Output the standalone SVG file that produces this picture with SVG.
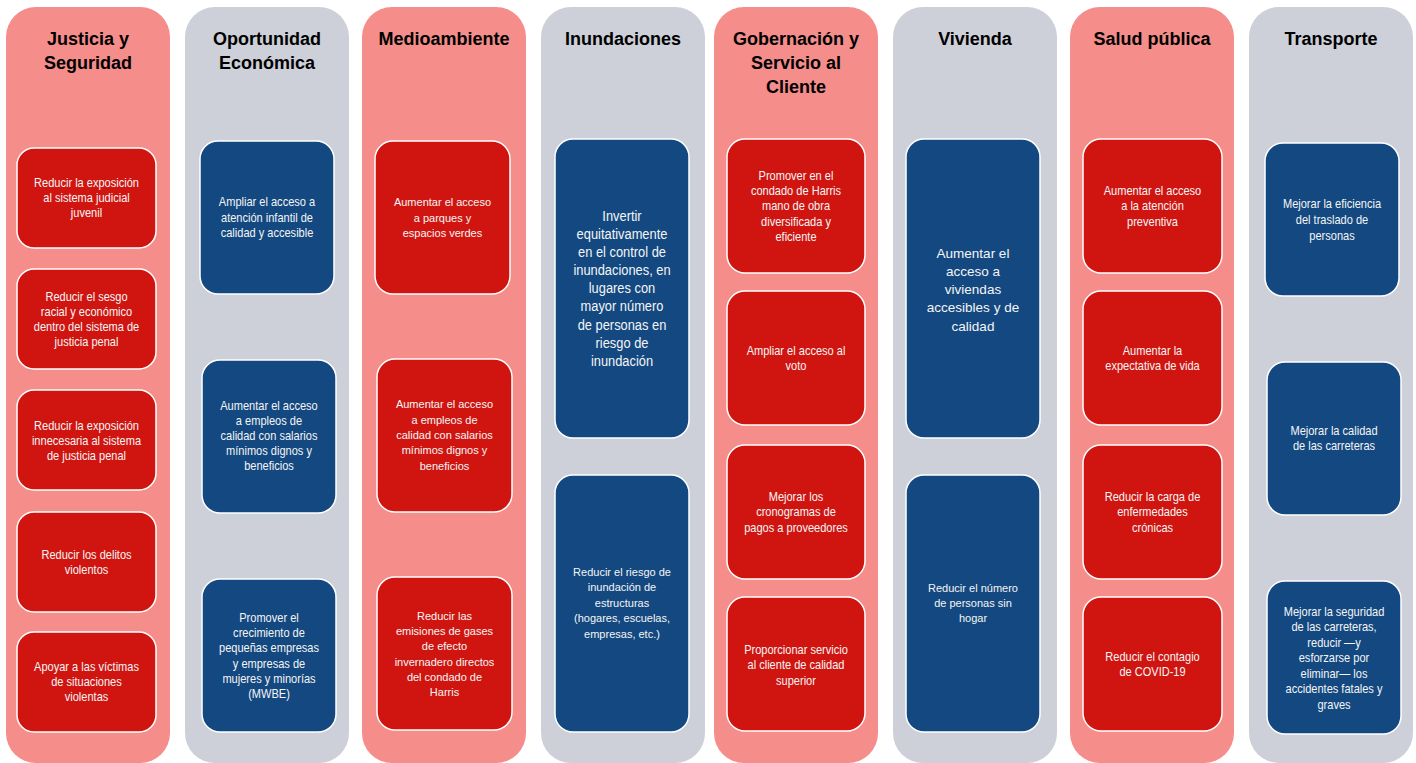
<svg xmlns="http://www.w3.org/2000/svg" width="1416" height="763" viewBox="0 0 1416 763">
<style>
.pink{fill:#F58D8B}
.gray{fill:#CDD0D9}
.red{fill:#D01511;stroke:#FFFFFF;stroke-width:1.5}
.blue{fill:#134880;stroke:#FFFFFF;stroke-width:1.5}
.hd{font-family:"Liberation Sans",Arial,sans-serif;font-weight:bold;font-size:18px;fill:#000;text-anchor:middle}
.n{font-family:"Liberation Sans",Arial,sans-serif;font-size:13px;fill:#F5F5F5;text-anchor:middle}
.r{font-family:"Liberation Sans",Arial,sans-serif;font-size:11px;fill:#F5F5F5;text-anchor:middle}
.nb{font-family:"Liberation Sans",Arial,sans-serif;font-size:15.5px;fill:#F5F5F5;text-anchor:middle}
.rb{font-family:"Liberation Sans",Arial,sans-serif;font-size:13.5px;fill:#F5F5F5;text-anchor:middle}
</style>

<g id="col-justicia">
<rect class="pink" x="6" y="7" width="164" height="756" rx="30"/>
<text class="hd"><tspan x="88" y="44.5">Justicia y</tspan><tspan x="88" y="68.5">Seguridad</tspan></text>
</g>
<g id="col-oportunidad">
<rect class="gray" x="185" y="7" width="164" height="756" rx="30"/>
<text class="hd"><tspan x="267" y="44.5">Oportunidad</tspan><tspan x="267" y="68.5">Económica</tspan></text>
</g>
<g id="col-medioambiente">
<rect class="pink" x="362" y="7" width="164" height="756" rx="30"/>
<text class="hd"><tspan x="444" y="44.5">Medioambiente</tspan></text>
</g>
<g id="col-inundaciones">
<rect class="gray" x="541" y="7" width="164" height="756" rx="30"/>
<text class="hd"><tspan x="623" y="44.5">Inundaciones</tspan></text>
</g>
<g id="col-gobernacion">
<rect class="pink" x="714" y="7" width="164" height="756" rx="30"/>
<text class="hd"><tspan x="796" y="44.5">Gobernación y</tspan><tspan x="796" y="68.5">Servicio al</tspan><tspan x="796" y="92.5">Cliente</tspan></text>
</g>
<g id="col-vivienda">
<rect class="gray" x="893" y="7" width="164" height="756" rx="30"/>
<text class="hd"><tspan x="975" y="44.5">Vivienda</tspan></text>
</g>
<g id="col-salud">
<rect class="pink" x="1070" y="7" width="164" height="756" rx="30"/>
<text class="hd"><tspan x="1152" y="44.5">Salud pública</tspan></text>
</g>
<g id="col-transporte">
<rect class="gray" x="1249" y="7" width="164" height="756" rx="30"/>
<text class="hd"><tspan x="1331" y="44.5">Transporte</tspan></text>
</g>

<!-- Justicia y Seguridad -->
<g id="j1"><rect class="red" x="17" y="148" width="139" height="100" rx="17"/>
<text class="n" transform="matrix(0.85 0 0 1 86.5 0)"><tspan x="0" y="187">Reducir la exposición</tspan><tspan x="0" y="202">al sistema judicial</tspan><tspan x="0" y="217">juvenil</tspan></text></g>
<g id="j2"><rect class="red" x="17" y="269" width="139" height="100" rx="17"/>
<text class="n" transform="matrix(0.85 0 0 1 86.5 0)"><tspan x="0" y="301">Reducir el sesgo</tspan><tspan x="0" y="316">racial y económico</tspan><tspan x="0" y="331">dentro del sistema de</tspan><tspan x="0" y="346">justicia penal</tspan></text></g>
<g id="j3"><rect class="red" x="17" y="390" width="139" height="100" rx="17"/>
<text class="n" transform="matrix(0.85 0 0 1 86.5 0)"><tspan x="0" y="430">Reducir la exposición</tspan><tspan x="0" y="445">innecesaria al sistema</tspan><tspan x="0" y="460">de justicia penal</tspan></text></g>
<g id="j4"><rect class="red" x="17" y="512" width="139" height="100" rx="17"/>
<text class="n" transform="matrix(0.85 0 0 1 86.5 0)"><tspan x="0" y="559">Reducir los delitos</tspan><tspan x="0" y="574">violentos</tspan></text></g>
<g id="j5"><rect class="red" x="17" y="632" width="139" height="100" rx="17"/>
<text class="n" transform="matrix(0.85 0 0 1 86.5 0)"><tspan x="0" y="671">Apoyar a las víctimas</tspan><tspan x="0" y="686">de situaciones</tspan><tspan x="0" y="701">violentas</tspan></text></g>

<!-- Oportunidad Económica -->
<g id="o1"><rect class="blue" x="200" y="141" width="134" height="153" rx="18"/>
<text class="n" transform="matrix(0.85 0 0 1 267 0)"><tspan x="0" y="206">Ampliar el acceso a</tspan><tspan x="0" y="222">atención infantil de</tspan><tspan x="0" y="237">calidad y accesible</tspan></text></g>
<g id="o2"><rect class="blue" x="202" y="360" width="134" height="153" rx="18"/>
<text class="n" transform="matrix(0.85 0 0 1 269 0)"><tspan x="0" y="410">Aumentar el acceso</tspan><tspan x="0" y="425">a empleos de</tspan><tspan x="0" y="440">calidad con salarios</tspan><tspan x="0" y="455">mínimos dignos y</tspan><tspan x="0" y="470">beneficios</tspan></text></g>
<g id="o3"><rect class="blue" x="202" y="579" width="134" height="153" rx="18"/>
<text class="n" transform="matrix(0.85 0 0 1 269 0)"><tspan x="0" y="622">Promover el</tspan><tspan x="0" y="637">crecimiento de</tspan><tspan x="0" y="652">pequeñas empresas</tspan><tspan x="0" y="668">y empresas de</tspan><tspan x="0" y="683">mujeres y minorías</tspan><tspan x="0" y="698">(MWBE)</tspan></text></g>

<!-- Medioambiente -->
<g id="m1"><rect class="red" x="375" y="141" width="135" height="153" rx="18"/>
<text class="r"><tspan x="442.5" y="206">Aumentar el acceso</tspan><tspan x="442.5" y="222">a parques y</tspan><tspan x="442.5" y="237">espacios verdes</tspan></text></g>
<g id="m2"><rect class="red" x="377" y="359" width="135" height="153" rx="18"/>
<text class="r"><tspan x="444.5" y="408">Aumentar el acceso</tspan><tspan x="444.5" y="424">a empleos de</tspan><tspan x="444.5" y="439">calidad con salarios</tspan><tspan x="444.5" y="454">mínimos dignos y</tspan><tspan x="444.5" y="470">beneficios</tspan></text></g>
<g id="m3"><rect class="red" x="377" y="577" width="135" height="153" rx="18"/>
<text class="r"><tspan x="444.5" y="620">Reducir las</tspan><tspan x="444.5" y="635">emisiones de gases</tspan><tspan x="444.5" y="650">de efecto</tspan><tspan x="444.5" y="666">invernadero directos</tspan><tspan x="444.5" y="681">del condado de</tspan><tspan x="444.5" y="696">Harris</tspan></text></g>

<!-- Inundaciones -->
<g id="i1"><rect class="blue" x="555" y="139" width="134" height="299" rx="18"/>
<text class="nb" transform="matrix(0.83 0 0 1 622 0)"><tspan x="0" y="221">Invertir</tspan><tspan x="0" y="239">equitativamente</tspan><tspan x="0" y="257">en el control de</tspan><tspan x="0" y="275">inundaciones, en</tspan><tspan x="0" y="293">lugares con</tspan><tspan x="0" y="311">mayor número</tspan><tspan x="0" y="330">de personas en</tspan><tspan x="0" y="348">riesgo de</tspan><tspan x="0" y="366">inundación</tspan></text></g>
<g id="i2"><rect class="blue" x="555" y="475" width="134" height="257" rx="18"/>
<text class="r"><tspan x="622" y="576">Reducir el riesgo de</tspan><tspan x="622" y="591">inundación de</tspan><tspan x="622" y="607">estructuras</tspan><tspan x="622" y="622">(hogares, escuelas,</tspan><tspan x="622" y="638">empresas, etc.)</tspan></text></g>

<!-- Gobernación -->
<g id="g1"><rect class="red" x="727" y="139" width="138" height="134" rx="18"/>
<text class="n" transform="matrix(0.85 0 0 1 796 0)"><tspan x="0" y="180">Promover en el</tspan><tspan x="0" y="195">condado de Harris</tspan><tspan x="0" y="210">mano de obra</tspan><tspan x="0" y="226">diversificada y</tspan><tspan x="0" y="241">eficiente</tspan></text></g>
<g id="g2"><rect class="red" x="727" y="291" width="138" height="134" rx="18"/>
<text class="n" transform="matrix(0.85 0 0 1 796 0)"><tspan x="0" y="355">Ampliar el acceso al</tspan><tspan x="0" y="370">voto</tspan></text></g>
<g id="g3"><rect class="red" x="727" y="445" width="138" height="134" rx="18"/>
<text class="n" transform="matrix(0.85 0 0 1 796 0)"><tspan x="0" y="501">Mejorar los</tspan><tspan x="0" y="516">cronogramas de</tspan><tspan x="0" y="532">pagos a proveedores</tspan></text></g>
<g id="g4"><rect class="red" x="727" y="597" width="138" height="134" rx="18"/>
<text class="n" transform="matrix(0.85 0 0 1 796 0)"><tspan x="0" y="654">Proporcionar servicio</tspan><tspan x="0" y="669">al cliente de calidad</tspan><tspan x="0" y="685">superior</tspan></text></g>

<!-- Vivienda -->
<g id="v1"><rect class="blue" x="906" y="139" width="134" height="299" rx="18"/>
<text class="rb"><tspan x="973" y="258">Aumentar el</tspan><tspan x="973" y="276">acceso a</tspan><tspan x="973" y="294">viviendas</tspan><tspan x="973" y="312">accesibles y de</tspan><tspan x="973" y="331">calidad</tspan></text></g>
<g id="v2"><rect class="blue" x="906" y="475" width="134" height="257" rx="18"/>
<text class="r"><tspan x="973" y="592">Reducir el número</tspan><tspan x="973" y="607">de personas sin</tspan><tspan x="973" y="622">hogar</tspan></text></g>

<!-- Salud pública -->
<g id="s1"><rect class="red" x="1083" y="139" width="139" height="134" rx="18"/>
<text class="n" transform="matrix(0.85 0 0 1 1152.5 0)"><tspan x="0" y="195">Aumentar el acceso</tspan><tspan x="0" y="210">a la atención</tspan><tspan x="0" y="226">preventiva</tspan></text></g>
<g id="s2"><rect class="red" x="1083" y="291" width="139" height="134" rx="18"/>
<text class="n" transform="matrix(0.85 0 0 1 1152.5 0)"><tspan x="0" y="355">Aumentar la</tspan><tspan x="0" y="370">expectativa de vida</tspan></text></g>
<g id="s3"><rect class="red" x="1083" y="445" width="139" height="134" rx="18"/>
<text class="n" transform="matrix(0.85 0 0 1 1152.5 0)"><tspan x="0" y="501">Reducir la carga de</tspan><tspan x="0" y="516">enfermedades</tspan><tspan x="0" y="532">crónicas</tspan></text></g>
<g id="s4"><rect class="red" x="1083" y="597" width="139" height="134" rx="18"/>
<text class="n" transform="matrix(0.85 0 0 1 1152.5 0)"><tspan x="0" y="661">Reducir el contagio</tspan><tspan x="0" y="676">de COVID-19</tspan></text></g>

<!-- Transporte -->
<g id="t1"><rect class="blue" x="1265" y="143" width="134" height="153" rx="18"/>
<text class="n" transform="matrix(0.85 0 0 1 1332 0)"><tspan x="0" y="208">Mejorar la eficiencia</tspan><tspan x="0" y="224">del traslado de</tspan><tspan x="0" y="240">personas</tspan></text></g>
<g id="t2"><rect class="blue" x="1267" y="362" width="134" height="153" rx="18"/>
<text class="n" transform="matrix(0.85 0 0 1 1334 0)"><tspan x="0" y="435">Mejorar la calidad</tspan><tspan x="0" y="450">de las carreteras</tspan></text></g>
<g id="t3"><rect class="blue" x="1267" y="581" width="134" height="153" rx="18"/>
<text class="n" transform="matrix(0.85 0 0 1 1334 0)"><tspan x="0" y="616">Mejorar la seguridad</tspan><tspan x="0" y="631">de las carreteras,</tspan><tspan x="0" y="647">reducir —y</tspan><tspan x="0" y="662">esforzarse por</tspan><tspan x="0" y="678">eliminar— los</tspan><tspan x="0" y="693">accidentes fatales y</tspan><tspan x="0" y="709">graves</tspan></text></g>

<g id="connectors"></g>
</svg>
